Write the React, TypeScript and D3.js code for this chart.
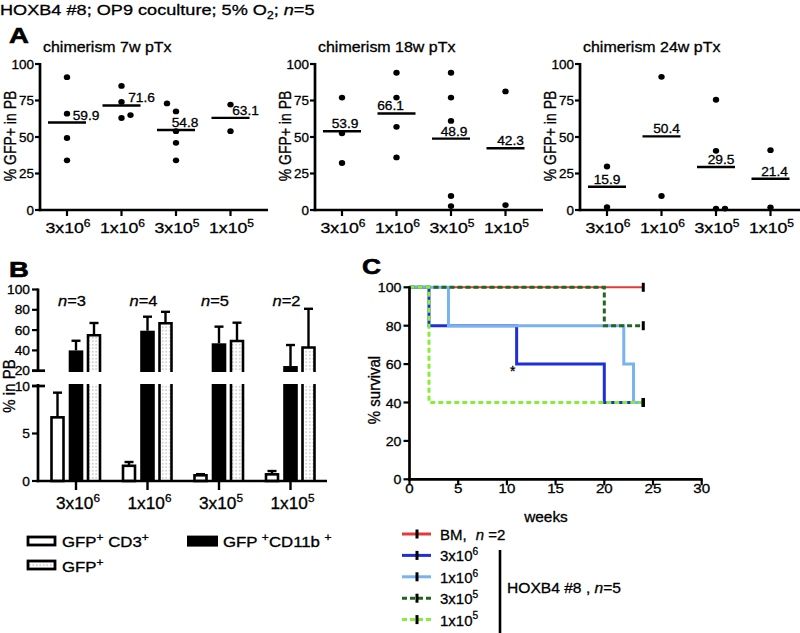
import React from 'react';
import * as d3 from 'd3';

// ---------- DATA ----------
const catBase = ['3x10', '1x10', '3x10', '1x10'];
const catExp = ['6', '6', '5', '5'];

const aTitles = ['chimerism 7w pTx', 'chimerism 18w pTx', 'chimerism 24w pTx'];
const a7Values = [[91, 66, 49.3, 34], [85, 74, 63, 65], [73, 67.5, 54, 46, 34], [72.2, 54]];
const a7Means = [59.9, 71.6, 54.8, 63.1];
const a18Values = [[77, 52.5, 32.2], [94, 77, 57, 36], [94, 77, 61, 9.6, 2.7], [81.2, 3.4]];
const a18Means = [53.9, 66.1, 48.9, 42.3];
const a24Values = [[29.8, 2], [91.2, 9.6], [75.5, 40.5, 1, 1], [41, 1.8]];
const a24Means = [15.9, 50.4, 29.5, 21.4];
const aTicks = [0, 25, 50, 75, 100];

const bN = ['3', '4', '5', '2'];
const cd3Mean = [6.7, 1.6, 0.6, 0.7];
const cd3Upper = [9.3, 2.0, 0.72, 1.05];
const cd11bMean = [40, 59.4, 47, 24.6];
const cd11bUpper = [49.5, 73.2, 63.4, 45.3];
const gfpMean = [55, 66.7, 49.3, 42.9];
const gfpUpper = [67, 78, 67.3, 81];
const bTopTicks = [20, 40, 60, 80, 100];
const bBottomTicks = [0, 5, 10];

const survBM: [number, number][] = [[0, 100], [24, 100]];
const surv3e6: [number, number][] = [[0, 100], [2, 80], [11, 60], [20, 40], [24, 40]];
const surv1e6: [number, number][] = [[0, 100], [4, 80], [22, 60], [23, 40], [24, 40]];
const surv3e5: [number, number][] = [[0, 100], [20, 80], [24, 80]];
const surv1e5: [number, number][] = [[0, 100], [2, 40], [24, 40]];
const cXTicks = [0, 5, 10, 15, 20, 25, 30];
const cYTicks = [0, 20, 40, 60, 80, 100];
const asterisk = { t: 10.6, s: 60 };

// ---------- LAYOUT / STYLE ----------
const SANS = "'Liberation Sans', Arial, Helvetica, sans-serif";
const aLefts = [40, 315, 580];
const aJitter = [
  [[0, 0, 0, 0], [0, 0, 0, 1], [-1, 0, 0, 0, 0], [0, 0]],
  [[0, 0, 0], [0, 0, 0, 0], [0, 0, 0, 0, 0], [0, 0]],
  [[0, 0], [0, 0], [0, 0, 0, 1], [0, 0]],
];
const aLabelDx = [[19, 20, 9, 15], [3, -6, 3, 5], [0, 5, 5, 4]];

type TP = {
  x: number; y: number; size: number; sx?: number; anchor?: string; rot?: boolean;
  weight?: string | number; children: React.ReactNode; italic?: boolean;
};
function T({ x, y, size, sx = 1, anchor = 'start', rot = false, weight = 'normal', children, italic }: TP) {
  return (
    <g transform={`translate(${x},${y}) scale(${sx},1)${rot ? ' rotate(-90)' : ''}`}>
      <text fontSize={size} textAnchor={anchor as any} fontWeight={weight as any}
        fontStyle={italic ? 'italic' : 'normal'} fontFamily={SANS} fill="#000"
        stroke="#000" strokeWidth={weight === 'bold' ? 0.6 : 0.3}>{children}</text>
    </g>
  );
}

function Sup({ base, exp, size }: { base: string; exp: string; size: number }) {
  return (
    <>
      <tspan>{base}</tspan>
      <tspan fontSize={size * 0.68} dy={-size * 0.42}>{exp}</tspan>
    </>
  );
}

const yA = d3.scaleLinear().domain([0, 100]).range([210, 64]);

function PanelA({ idx, values, means }: { idx: number; values: number[][]; means: number[] }) {
  const left = aLefts[idx];
  const x = d3.scalePoint<number>().domain([0, 1, 2, 3]).range([left + 27, left + 190.5]);
  return (
    <g>
      <T x={left + 3} y={52} size={14} sx={1.14}>{aTitles[idx]}</T>
      <T x={left - 24} y={136} size={14} sx={1.15} rot anchor="middle">% GFP+ in PB</T>
      <line x1={left} x2={left} y1={yA(100) - 1} y2={yA(0) + 1.2} stroke="#000" strokeWidth={2.7} />
      <line x1={left - 1.3} x2={left + 228} y1={yA(0)} y2={yA(0)} stroke="#000" strokeWidth={2.7} />
      {aTicks.map((t) => (
        <g key={t}>
          <line x1={left - 5} x2={left} y1={yA(t)} y2={yA(t)} stroke="#000" strokeWidth={2.2} />
          <T x={left - 6} y={yA(t) + 4.5} size={12} sx={1.12} anchor="end">{t}</T>
        </g>
      ))}
      {catBase.map((b, i) => (
        <g key={i}>
          <line x1={x(i)!} x2={x(i)!} y1={yA(0)} y2={yA(0) + 6} stroke="#000" strokeWidth={2.2} />
          <T x={x(i)! + 1} y={233} size={15} sx={1.18} anchor="middle"><Sup base={b} exp={catExp[i]} size={15} /></T>
        </g>
      ))}
      {values.map((vals, i) => (
        <g key={i}>
          {vals.map((v, j) => (
            <ellipse key={j} cx={x(i)! + aJitter[idx][i][j] * 9} cy={yA(v)} rx={3.2} ry={2.9} fill="#000" />
          ))}
          <line x1={x(i)! - 19} x2={x(i)! + 19} y1={yA(means[i])} y2={yA(means[i])} stroke="#000" strokeWidth={2.4} />
          <T x={x(i)! + aLabelDx[idx][i]} y={yA(means[i]) - 3} size={12.5} sx={1.1} anchor="middle">{means[i].toFixed(1)}</T>
        </g>
      ))}
    </g>
  );
}

// Panel B scales
const yBTop = d3.scaleLinear().domain([20, 100]).range([370.7, 289.5]);
const yBBot = d3.scaleLinear().domain([0, 10]).range([481, 386]);
const xB = d3.scalePoint<number>().domain([0, 1, 2, 3]).range([76, 290.5]);
const B_AX = 38;
const B_TOP_CUT = 372;
const B_BOT_CUT = 384;

function PanelB() {
  const bw = 12;
  const offW = -18.5, offD = 18;
  const errBar = (cx: number, y0: number, y1: number, key: string) => (
    <g key={key}>
      <line x1={cx} x2={cx} y1={y0} y2={y1} stroke="#000" strokeWidth={2.4} />
      <line x1={cx - 4.5} x2={cx + 4.5} y1={y1} y2={y1} stroke="#000" strokeWidth={2.4} />
    </g>
  );
  return (
    <g>
      <T x={9} y={277} size={22} weight="bold" sx={1.25}>B</T>
      <T x={15} y={386} size={15} sx={1.1} rot anchor="middle">% in PB</T>
      {/* bars */}
      {catBase.map((_, i) => {
        const c = xB(i)!;
        const wx = c + offW, dx = c + offD;
        return (
          <g key={i}>
            {errBar(wx, yBBot(cd3Mean[i]), yBBot(cd3Upper[i]), 'ew' + i)}
            <rect x={wx - bw / 2} y={yBBot(cd3Mean[i])} width={bw} height={yBBot(0) - yBBot(cd3Mean[i])}
              fill="#fff" stroke="#000" strokeWidth={2.6} />
            {errBar(c, yBTop(cd11bMean[i]), yBTop(cd11bUpper[i]), 'eb' + i)}
            <rect x={c - (bw + 2.6) / 2} y={yBTop(cd11bMean[i])} width={bw + 2.6} height={B_TOP_CUT - yBTop(cd11bMean[i])} fill="#000" />
            <rect x={c - (bw + 2.6) / 2} y={B_BOT_CUT} width={bw + 2.6} height={yBBot(0) - B_BOT_CUT} fill="#000" />
            {errBar(dx, yBTop(gfpMean[i]), yBTop(gfpUpper[i]), 'ed' + i)}
            <rect x={dx - bw / 2} y={yBTop(gfpMean[i])} width={bw} height={B_TOP_CUT - yBTop(gfpMean[i])} fill="url(#dotpat)" />
            <path d={`M${dx - bw / 2},${B_TOP_CUT}V${yBTop(gfpMean[i])}H${dx + bw / 2}V${B_TOP_CUT}`} fill="none" stroke="#000" strokeWidth={2.6} />
            <rect x={dx - bw / 2} y={B_BOT_CUT} width={bw} height={yBBot(0) - B_BOT_CUT} fill="url(#dotpat)" />
            <path d={`M${dx - bw / 2},${B_BOT_CUT}V${yBBot(0)}M${dx + bw / 2},${B_BOT_CUT}V${yBBot(0)}`} fill="none" stroke="#000" strokeWidth={2.6} />
            <T x={c - 4} y={306} size={15} sx={1.1} anchor="middle"><tspan fontStyle="italic">n</tspan>={bN[i]}</T>
          </g>
        );
      })}
      {/* axes */}
      <line x1={B_AX} x2={B_AX} y1={yBTop(100) - 1} y2={B_TOP_CUT} stroke="#000" strokeWidth={2.7} />
      <line x1={B_AX} x2={B_AX} y1={B_BOT_CUT} y2={yBBot(0) + 1.2} stroke="#000" strokeWidth={2.7} />
      <line x1={B_AX - 1.3} x2={327} y1={yBBot(0)} y2={yBBot(0)} stroke="#000" strokeWidth={2.7} />
      <line x1={B_AX - 6} x2={B_AX + 7} y1={yBTop(20)} y2={yBTop(20)} stroke="#000" strokeWidth={2.7} />
      <line x1={B_AX - 6} x2={B_AX + 7} y1={yBBot(10)} y2={yBBot(10)} stroke="#000" strokeWidth={2.7} />
      {bTopTicks.map((t) => (
        <g key={'t' + t}>
          <line x1={B_AX - 6} x2={B_AX} y1={yBTop(t)} y2={yBTop(t)} stroke="#000" strokeWidth={2.2} />
          <T x={B_AX - 8} y={yBTop(t) + 4.5} size={12.5} sx={1.1} anchor="end">{t}</T>
        </g>
      ))}
      {bBottomTicks.map((t) => (
        <g key={'b' + t}>
          <line x1={B_AX - 6} x2={B_AX} y1={yBBot(t)} y2={yBBot(t)} stroke="#000" strokeWidth={2.2} />
          <T x={B_AX - 8} y={yBBot(t) + 4.5} size={12.5} sx={1.1} anchor="end">{t}</T>
        </g>
      ))}
      {catBase.map((b, i) => (
        <g key={'x' + i}>
          <line x1={xB(i)!} x2={xB(i)!} y1={yBBot(0)} y2={yBBot(0) + 9} stroke="#000" strokeWidth={2.4} />
          <T x={xB(i)! + 2} y={509} size={16} sx={1.08} anchor="middle"><Sup base={b} exp={catExp[i]} size={16} /></T>
        </g>
      ))}
      {/* legend */}
      <rect x={28} y={537} width={27} height={8} fill="#fff" stroke="#000" strokeWidth={2.8} />
      <T x={62} y={547} size={14} sx={1.2}>GFP<tspan fontSize={10} dy={-6}>+</tspan><tspan dy={6}> CD3</tspan><tspan fontSize={10} dy={-6}>+</tspan></T>
      <rect x={187} y={535.6} width={31} height={11} fill="#000" />
      <T x={223} y={547} size={14} sx={1.2}>GFP <tspan fontSize={10} dy={-6}>+</tspan><tspan dy={6}>CD11b </tspan><tspan fontSize={10} dy={-6}>+</tspan></T>
      <rect x={28} y={561} width={27} height={8} fill="url(#dotpat)" stroke="#000" strokeWidth={2.8} />
      <T x={62} y={572} size={14} sx={1.2}>GFP<tspan fontSize={10} dy={-6}>+</tspan></T>
    </g>
  );
}

// Panel C
const xC = d3.scaleLinear().domain([0, 30]).range([409.5, 701.7]);
const yC = d3.scaleLinear().domain([0, 100]).range([479.3, 287.3]);
const cSeries = [
  { label: 'bm', data: survBM, color: '#e23a3a', dash: '', w: 2 },
  { label: '3e6', data: surv3e6, color: '#1f2fd6', dash: '', w: 3 },
  { label: '1e6', data: surv1e6, color: '#79b3ee', dash: '', w: 3 },
  { label: '3e5', data: surv3e5, color: '#22661f', dash: '5,3', w: 3 },
  { label: '1e5', data: surv1e5, color: '#86ee3a', dash: '5,3', w: 3 },
];
const legendRows = [
  { s: 0, base: 'BM,', exp: '' },
  { s: 1, base: '3x10', exp: '6' },
  { s: 2, base: '1x10', exp: '6' },
  { s: 3, base: '3x10', exp: '5' },
  { s: 4, base: '1x10', exp: '5' },
];

function PanelC() {
  const line = d3.line<[number, number]>().x((d) => xC(d[0])).y((d) => yC(d[1])).curve(d3.curveStepAfter);
  return (
    <g>
      <T x={362} y={274} size={22} weight="bold" sx={1.2}>C</T>
      <T x={380} y={390} size={15} sx={1.05} rot anchor="middle">% survival</T>
      {cSeries.map((s) => (
        <path key={s.label} d={line(s.data)!} fill="none" stroke={s.color} strokeWidth={s.w}
          strokeDasharray={s.dash || undefined} />
      ))}
      {cSeries.map((s) => {
        const last = s.data[s.data.length - 1];
        return <rect key={'c' + s.label} x={xC(last[0]) - 1.5} y={yC(last[1]) - 4.5} width={3} height={9} fill="#000" />;
      })}
      <T x={xC(asterisk.t)} y={yC(asterisk.s) + 12} size={14} anchor="middle">*</T>
      <line x1={xC(0)} x2={xC(0)} y1={yC(100) - 1} y2={yC(0) + 1.2} stroke="#000" strokeWidth={2.7} />
      <line x1={xC(0) - 1.3} x2={xC(30) + 1} y1={yC(0)} y2={yC(0)} stroke="#000" strokeWidth={2.7} />
      {cYTicks.map((t) => (
        <g key={'y' + t}>
          <line x1={xC(0) - 6} x2={xC(0)} y1={yC(t)} y2={yC(t)} stroke="#000" strokeWidth={2.2} />
          <T x={xC(0) - 8} y={yC(t) + 5} size={13.5} sx={1.05} anchor="end">{t}</T>
        </g>
      ))}
      {cXTicks.map((t) => (
        <g key={'x' + t}>
          <line x1={xC(t)} x2={xC(t)} y1={yC(0)} y2={yC(0) + 6} stroke="#000" strokeWidth={2.2} />
          <T x={xC(t)} y={493} size={13.5} sx={1.12} anchor="middle">{t}</T>
        </g>
      ))}
      <T x={546} y={522} size={14} sx={1.1} anchor="middle">weeks</T>
      {legendRows.map((r, i) => {
        const s = cSeries[r.s];
        const y = 534 + i * 21.4;
        return (
          <g key={'l' + i}>
            <line x1={402} x2={431} y1={y} y2={y} stroke={s.color} strokeWidth={3} strokeDasharray={s.dash || undefined} />
            <rect x={415.5} y={y - 4.5} width={3} height={9} fill="#000" />
            <T x={440} y={y + 6} size={15} sx={1.0}>
              {r.exp ? <Sup base={r.base} exp={r.exp} size={15} /> : r.base}
              {i === 0 ? <><tspan dx={9} fontStyle="italic">n</tspan><tspan> =2</tspan></> : null}
            </T>
          </g>
        );
      })}
      <line x1={500} x2={500} y1={550} y2={640} stroke="#000" strokeWidth={2.6} />
      <T x={507} y={593} size={15} sx={1.04}>HOXB4 #8 , <tspan fontStyle="italic">n</tspan>=5</T>
    </g>
  );
}

export default function App() {
  return (
    <svg width={800} height={633} style={{ position: 'absolute', left: 0, top: 0, background: '#fff' }}>
      <defs>
        <pattern id="dotpat" width={3.5} height={3.5} patternUnits="userSpaceOnUse">
          <rect width={3.5} height={3.5} fill="#fff" />
          <rect x={1.2} y={1.2} width={1} height={1} fill="#777" />
        </pattern>
      </defs>
      <rect width={800} height={633} fill="#fff" />
      <T x={0} y={15} size={15} sx={1.21}>HOXB4 #8; OP9 coculture; 5% O<tspan fontSize={10} dy={4}>2</tspan><tspan dy={-4}>; </tspan><tspan fontStyle="italic">n</tspan>=5</T>
      <T x={9} y={43} size={22} weight="bold" sx={1.25}>A</T>
      <PanelA idx={0} values={a7Values} means={a7Means} />
      <PanelA idx={1} values={a18Values} means={a18Means} />
      <PanelA idx={2} values={a24Values} means={a24Means} />
      <PanelB />
      <PanelC />
    </svg>
  );
}
